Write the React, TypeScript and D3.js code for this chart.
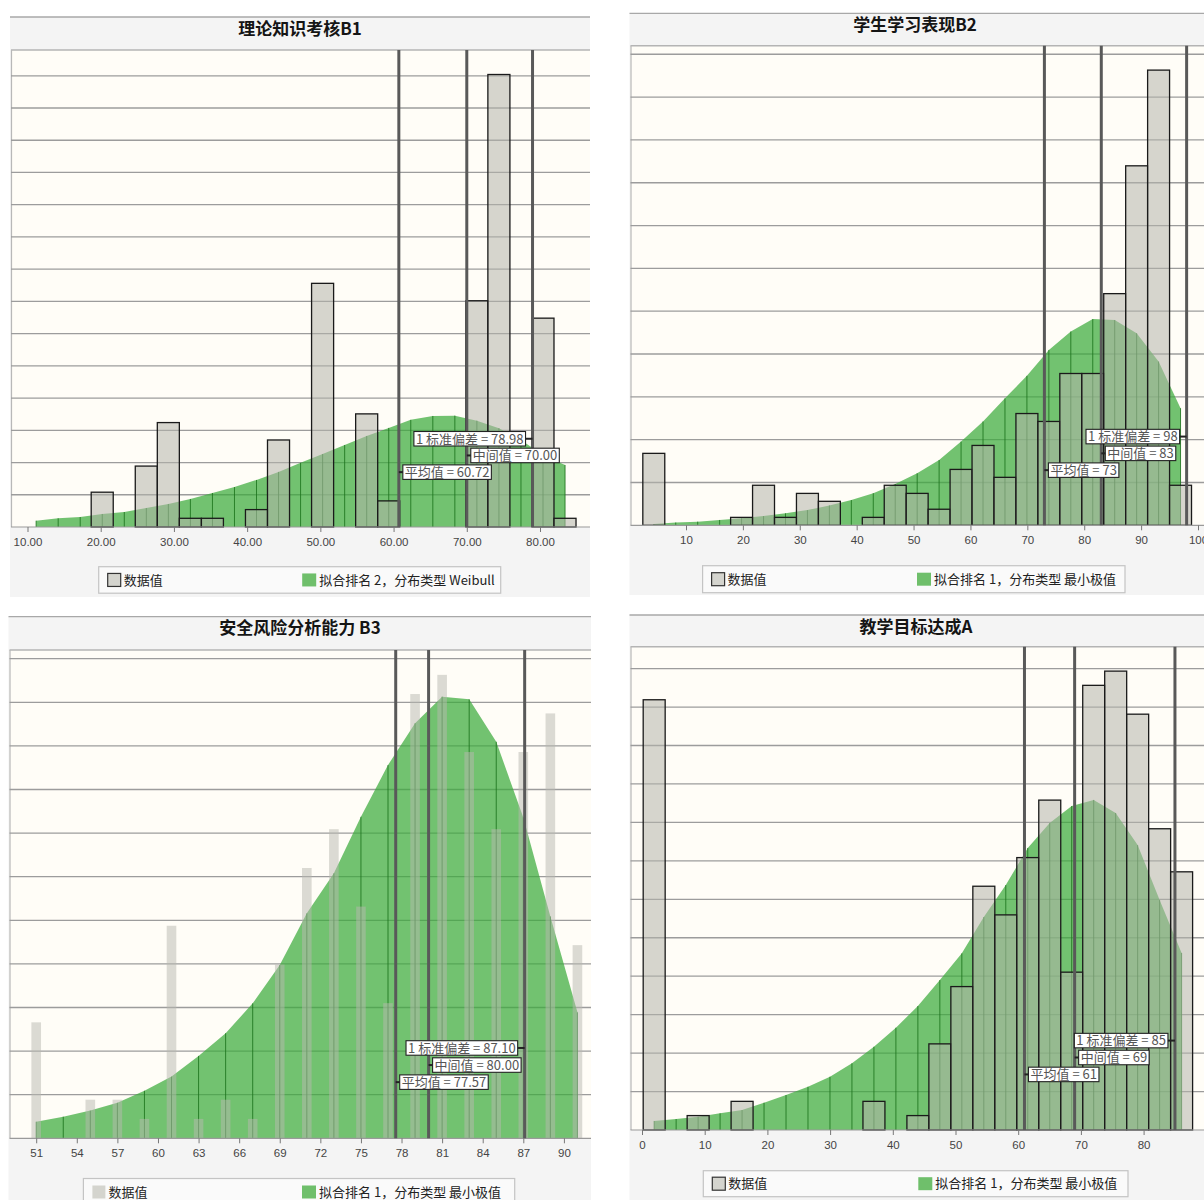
import React, { useEffect, useRef } from "react";
import * as d3 from "d3";

const CJK = "'Noto Sans CJK SC', 'Noto Sans', sans-serif";
const LATIN = "'Liberation Sans', Arial, sans-serif";

const STAT_NAMES = ["平均值", "中间值", "1 标准偏差"];
const DATA_LABEL = "数据值";

// ---------- 理论知识考核B1 (y values: percent of sample) ----------
const B1_TITLE = "理论知识考核B1";
const B1_BIN_START = 18.7;
const B1_BIN_WIDTH = 3.01;
const B1_PERCENT = [2.16, 0, 3.78, 6.48, 0.54, 0.54, 0, 1.08, 5.4, 0, 15.12, 0, 7.02, 1.62, 0, 0, 0, 14.04, 28.08, 0, 12.96, 0.54];
const B1_FIT_START = 11.18;
const B1_FIT = [0.39, 0.54, 0.62, 0.81, 0.93, 1.18, 1.43, 1.74, 2.11, 2.48, 2.92, 3.42, 3.98, 4.53, 5.09, 5.65, 6.15, 6.65, 6.89, 6.91, 6.6, 6.13, 5.4, 4.47, 3.85];
const B1_TICKS = [10, 20, 30, 40, 50, 60, 70, 80];
const B1_STATS = [60.72, 70.0, 78.98];
const B1_FIT_LABEL = "拟合排名 2，分布类型 Weibull";

// ---------- 学生学习表现B2 ----------
const B2_TITLE = "学生学习表现B2";
const B2_BIN_START = 2.41;
const B2_BIN_WIDTH = 3.858;
const B2_PERCENT = [3.36, 0, 0, 0, 0.37, 1.87, 0.37, 1.49, 1.12, 0, 0.37, 1.87, 1.49, 0.75, 2.61, 3.73, 2.24, 5.22, 4.85, 7.09, 7.09, 10.82, 16.79, 21.26, 1.87];
const B2_FIT_START = 4.34;
const B2_FIT = [0.06, 0.13, 0.17, 0.25, 0.33, 0.43, 0.56, 0.71, 0.93, 1.18, 1.5, 1.93, 2.43, 3.05, 3.91, 4.85, 5.93, 6.98, 8.19, 9.05, 9.63, 9.59, 8.97, 7.65, 5.47];
const B2_TICKS = [10, 20, 30, 40, 50, 60, 70, 80, 90, 100];
const B2_STATS = [73, 83, 98];
const B2_FIT_LABEL = "拟合排名 1，分布类型 最小极值";

// ---------- 安全风险分析能力 B3 ----------
const B3_TITLE = "安全风险分析能力 B3";
const B3_BIN_START = 50;
const B3_BIN_WIDTH = 2;
const B3_PERCENT = [5.32, 0, 1.77, 1.77, 0.89, 9.75, 0.89, 1.77, 0.89, 7.97, 12.4, 14.18, 10.63, 6.2, 20.38, 21.26, 17.72, 14.18, 17.72, 19.49, 8.86];
const B3_FIT_START = 51;
const B3_FIT = [0.76, 0.99, 1.27, 1.63, 2.18, 2.83, 3.78, 4.82, 6.19, 7.95, 10.32, 12.16, 14.75, 17.12, 19.04, 20.26, 20.14, 18.19, 14.72, 10.18, 5.78];
const B3_TICKS = [51, 54, 57, 60, 63, 66, 69, 72, 75, 78, 81, 84, 87, 90];
const B3_STATS = [77.57, 80.0, 87.1];
const B3_FIT_LABEL = "拟合排名 1，分布类型 最小极值";

// ---------- 教学目标达成A ----------
const A_TITLE = "教学目标达成A";
const A_BIN_START = 0.19;
const A_BIN_WIDTH = 3.505;
const A_PERCENT = [22.38, 0, 0.75, 0, 1.49, 0, 0, 0, 0, 0, 1.49, 0, 0.75, 4.48, 7.46, 12.68, 11.19, 14.17, 17.16, 8.21, 23.13, 23.87, 21.63, 15.67, 13.43];
const A_FIT_START = 1.94;
const A_FIT = [0.47, 0.57, 0.69, 0.87, 1.04, 1.42, 1.82, 2.25, 2.77, 3.47, 4.33, 5.32, 6.45, 7.8, 9.19, 11.08, 12.74, 14.67, 15.97, 16.85, 17.17, 16.49, 14.82, 11.96, 9.21];
const A_TICKS = [0, 10, 20, 30, 40, 50, 60, 70, 80];
const A_STATS = [61, 69, 85];
const A_FIT_LABEL = "拟合排名 1，分布类型 最小极值";

const PANELS = [
  {
    data: { title: B1_TITLE, bars: B1_PERCENT, binStart: B1_BIN_START, binWidth: B1_BIN_WIDTH, fit: B1_FIT, fitStart: B1_FIT_START, ticks: B1_TICKS, tickFmt: ".2f", stats: B1_STATS, statFmt: ".2f", fitLabel: B1_FIT_LABEL, outlined: true },
    layout: { x0: 10, x1: 590, titleX: 300, titleTop: 17, plotTop: 50, base: 527, bottom: 597, xDomain: [10, 80], xRange: [27.5, 540], yMax: 29.6, legend: { x: 98.7, y: 566.7, w: 402, h: 26.5, item2: 203.5 } },
  },
  {
    data: { title: B2_TITLE, bars: B2_PERCENT, binStart: B2_BIN_START, binWidth: B2_BIN_WIDTH, fit: B2_FIT, fitStart: B2_FIT_START, ticks: B2_TICKS, tickFmt: "d", stats: B2_STATS, statFmt: "d", fitLabel: B2_FIT_LABEL, outlined: true },
    layout: { x0: 629.5, x1: 1206, titleX: 915, titleTop: 13.3, plotTop: 45.7, base: 525.3, bottom: 595, xDomain: [10, 100], xRange: [686, 1198], yMax: 22.4, legend: { x: 702.6, y: 565.7, w: 422.4, h: 27, item2: 214.4 } },
  },
  {
    data: { title: B3_TITLE, bars: B3_PERCENT, binStart: B3_BIN_START, binWidth: B3_BIN_WIDTH, fit: B3_FIT, fitStart: B3_FIT_START, ticks: B3_TICKS, tickFmt: "d", stats: B3_STATS, statFmt: ".2f", fitLabel: B3_FIT_LABEL, outlined: false },
    layout: { x0: 8.5, x1: 591, titleX: 300, titleTop: 616.7, plotTop: 650, base: 1138.3, bottom: 1200, xDomain: [51, 90], xRange: [36.2, 563.9], yMax: 22.4, legend: { x: 83.4, y: 1178.5, w: 431.3, h: 27, item2: 218.6 } },
  },
  {
    data: { title: A_TITLE, bars: A_PERCENT, binStart: A_BIN_START, binWidth: A_BIN_WIDTH, fit: A_FIT, fitStart: A_FIT_START, ticks: A_TICKS, tickFmt: "d", stats: A_STATS, statFmt: "d", fitLabel: A_FIT_LABEL, outlined: true },
    layout: { x0: 629.5, x1: 1206, titleX: 916, titleTop: 615, plotTop: 646.7, base: 1130, bottom: 1200, xDomain: [0, 80], xRange: [642, 1143.6], yMax: 25.14, legend: { x: 703.3, y: 1170.7, w: 424.7, h: 26, item2: 215 } },
  },
];

function drawPanel(root: any, d: any, L: any) {
  const g = root.append("g");
  const x = d3.scaleLinear().domain(L.xDomain).range(L.xRange);
  const y = d3.scaleLinear().domain([0, L.yMax]).range([L.base, L.plotTop]);
  const W = L.x1 - L.x0;

  // panel background + title bar
  g.append("rect").attr("x", L.x0).attr("y", L.titleTop).attr("width", W).attr("height", L.bottom - L.titleTop).attr("fill", "#f4f4f4");
  g.append("line").attr("x1", L.x0).attr("x2", L.x1).attr("y1", L.titleTop).attr("y2", L.titleTop).attr("stroke", "#a8a8a8").attr("stroke-width", 1.3);
  g.append("text")
    .attr("x", L.titleX).attr("y", L.titleTop + 17.5).attr("text-anchor", "middle")
    .attr("font-family", CJK).attr("font-weight", 700).attr("font-size", 17).attr("fill", "#151515")
    .text(d.title);

  // plot area
  g.append("rect").attr("x", L.x0 + 1).attr("y", L.plotTop).attr("width", W - 1).attr("height", L.base - L.plotTop).attr("fill", "#fffdf7");
  g.append("line").attr("x1", L.x0 + 1).attr("x2", L.x1).attr("y1", L.plotTop).attr("y2", L.plotTop).attr("stroke", "#b4b4b4").attr("stroke-width", 1.5);
  g.append("line").attr("x1", L.x0 + 1.5).attr("x2", L.x0 + 1.5).attr("y1", L.plotTop).attr("y2", L.base).attr("stroke", "#b8b8b8").attr("stroke-width", 1.2);

  // gridlines
  g.append("g").selectAll("line").data(d3.range(2, L.yMax, 2)).join("line")
    .attr("x1", L.x0 + 1).attr("x2", L.x1)
    .attr("y1", (v: number) => y(v)).attr("y2", (v: number) => y(v))
    .attr("stroke", "#9c9c9c").attr("stroke-width", 1.3);

  // fitted distribution area
  const pts = d.fit.map((v: number, i: number) => ({ xv: d.fitStart + i * d.binWidth, yv: v }));
  const area = d3.area<any>().x((p) => x(p.xv)).y0(y(0)).y1((p) => y(p.yv));
  g.append("path").attr("d", area(pts)).attr("fill", "rgb(60,170,60)").attr("fill-opacity", 0.72);
  g.append("g").selectAll("line").data(pts).join("line")
    .attr("x1", (p: any) => x(p.xv)).attr("x2", (p: any) => x(p.xv))
    .attr("y1", y(0)).attr("y2", (p: any) => y(p.yv))
    .attr("stroke", "#1d741d").attr("stroke-opacity", 0.85).attr("stroke-width", 1);

  // histogram bars
  const bins = d.bars
    .map((v: number, k: number) => ({ a: d.binStart + k * d.binWidth, b: d.binStart + (k + 1) * d.binWidth, v }))
    .filter((bn: any) => bn.v > 0);
  if (d.outlined) {
    g.append("g").selectAll("rect").data(bins).join("rect")
      .attr("x", (bn: any) => x(bn.a)).attr("width", (bn: any) => x(bn.b) - x(bn.a))
      .attr("y", (bn: any) => y(bn.v)).attr("height", (bn: any) => y(0) - y(bn.v))
      .attr("fill", "#b4b4ac").attr("fill-opacity", 0.55)
      .attr("stroke", "#1a1a1a").attr("stroke-width", 1.3);
  } else {
    const half = d.binWidth * 0.355 / 2;
    g.append("g").selectAll("rect").data(bins).join("rect")
      .attr("x", (bn: any) => x((bn.a + bn.b) / 2 - half)).attr("width", (bn: any) => x((bn.a + bn.b) / 2 + half) - x((bn.a + bn.b) / 2 - half))
      .attr("y", (bn: any) => y(bn.v)).attr("height", (bn: any) => y(0) - y(bn.v))
      .attr("fill", "#b8b8b0").attr("fill-opacity", 0.5);
  }

  // x axis
  g.append("line").attr("x1", L.x0 + 1).attr("x2", L.x1).attr("y1", L.base).attr("y2", L.base).attr("stroke", "#9a9a9a").attr("stroke-width", 1.2);
  const axis = d3.axisBottom(x).tickValues(d.ticks).tickFormat(d3.format(d.tickFmt) as any).tickSize(5).tickSizeOuter(0);
  const ax = g.append("g").attr("transform", `translate(0,${L.base})`).call(axis);
  ax.select(".domain").remove();
  ax.selectAll(".tick line").attr("stroke", "#777");
  ax.selectAll(".tick text")
    .attr("font-family", LATIN).attr("font-size", 11.5).attr("fill", "#444")
    .attr("y", 19).attr("dy", null);

  // reference lines
  g.append("g").selectAll("line").data(d.stats).join("line")
    .attr("x1", (v: number) => x(v)).attr("x2", (v: number) => x(v))
    .attr("y1", L.plotTop).attr("y2", L.base)
    .attr("stroke", "#595959").attr("stroke-width", 3);

  // labels
  const fmt = d3.format(d.statFmt);
  const fracs = [0.885, 0.85, 0.815];
  const H = L.base - L.plotTop;
  d.stats.forEach((v: number, i: number) => {
    const cx = x(v);
    const cy = L.plotTop + fracs[i] * H;
    const lg = g.append("g");
    const rect = lg.append("rect");
    const t = lg.append("text").attr("font-family", CJK).attr("font-size", 13).attr("fill", "#555")
      .text(`${STAT_NAMES[i]} = ${fmt(v)}`);
    const tw = (t.node() as SVGTextElement).getComputedTextLength();
    const bw = tw + 4;
    const bh = 14.5;
    const bx = i === 2 ? cx - 7 - bw : cx + 4;
    rect.attr("x", bx).attr("y", cy - bh / 2).attr("width", bw).attr("height", bh)
      .attr("fill", "#ffffff").attr("stroke", "#222").attr("stroke-width", 1.1);
    t.attr("x", bx + 2).attr("y", cy + 4.8);
    lg.append("line")
      .attr("x1", i === 2 ? bx + bw : cx).attr("x2", i === 2 ? cx : bx)
      .attr("y1", cy).attr("y2", cy).attr("stroke", "#222").attr("stroke-width", 2);
  });

  // legend
  const lgd = L.legend;
  g.append("rect").attr("x", lgd.x).attr("y", lgd.y).attr("width", lgd.w).attr("height", lgd.h)
    .attr("fill", "#fafafa").attr("stroke", "#c4c4c4").attr("stroke-width", 1.2);
  const sy = lgd.y + (lgd.h - 13) / 2;
  g.append("rect").attr("x", lgd.x + 9).attr("y", sy).attr("width", 13).attr("height", 13)
    .attr("fill", "#d4d4ce").attr("stroke", d.outlined ? "#333" : "none").attr("stroke-width", 1.2);
  g.append("text").attr("x", lgd.x + 25).attr("y", lgd.y + lgd.h / 2 + 4.6)
    .attr("font-family", CJK).attr("font-size", 13).attr("fill", "#222").text(DATA_LABEL);
  g.append("rect").attr("x", lgd.x + lgd.item2).attr("y", sy).attr("width", 14).attr("height", 13).attr("fill", "#6fbf6b");
  g.append("text").attr("x", lgd.x + lgd.item2 + 17).attr("y", lgd.y + lgd.h / 2 + 4.6)
    .attr("font-family", CJK).attr("font-size", 13).attr("fill", "#222").text(d.fitLabel);
}

export default function App() {
  const ref = useRef<SVGSVGElement | null>(null);
  useEffect(() => {
    const svg = d3.select(ref.current);
    svg.selectAll("*").remove();
    svg.append("rect").attr("width", 1204).attr("height", 1200).attr("fill", "#ffffff");
    PANELS.forEach((p) => drawPanel(svg, p.data, p.layout));
  }, []);
  return (
    <div style={{ position: "absolute", left: 0, top: 0 }}>
      <svg ref={ref} width={1204} height={1200} style={{ display: "block" }} />
    </div>
  );
}
